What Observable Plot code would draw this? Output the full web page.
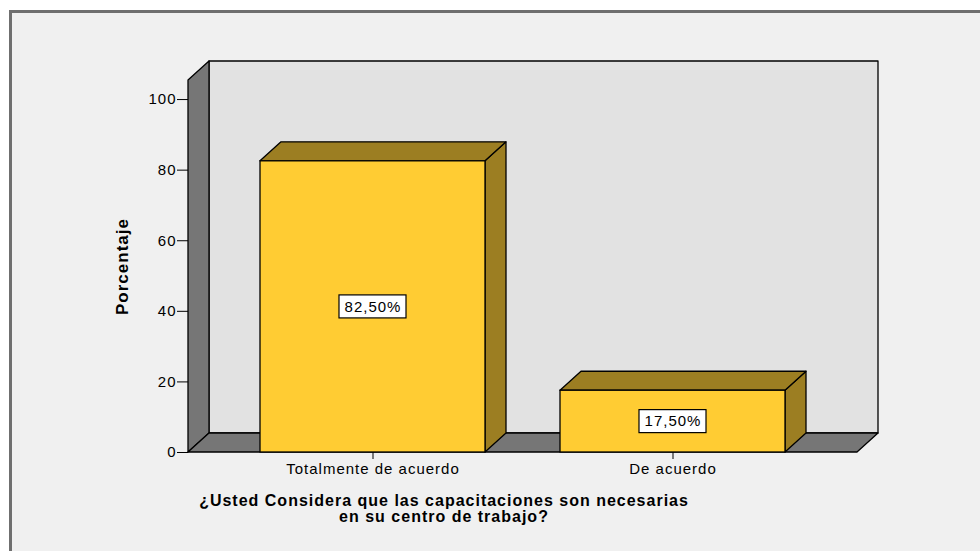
<!DOCTYPE html>
<html><head><meta charset="utf-8">
<script src="https://cdn.jsdelivr.net/npm/d3@7"></script>
<script src="https://cdn.jsdelivr.net/npm/@observablehq/plot@0.6"></script>
<style>
body{margin:0;background:#fff;width:980px;height:551px;overflow:hidden;position:relative;font-family:"Liberation Sans",Arial,sans-serif}
#frame{position:absolute;left:9px;top:10px;width:990px;height:560px;background:#f0f0f0;border-left:3px solid #6f6f6f;border-top:3px solid #6f6f6f;box-sizing:border-box}
#chart{position:absolute;left:0;top:0}
</style></head><body>
<div id="frame"></div><div id="chart"></div>
<script>
const categories = ["Totalmente de acuerdo", "De acuerdo"];
const percentages = [82.5, 17.5];
const valueLabels = ["82,50%", "17,50%"];
const yTicks = [0, 20, 40, 60, 80, 100];
const yDomain = [0, 105.4];
const yLabel = "Porcentaje";
const xTitle = "¿Usted Considera que las capacitaciones son necesarias\nen su centro de trabajo?";

const data = categories.map((c, i) => ({cat: c, pct: percentages[i], label: valueLabels[i]}));

const DX = 21, DY = -19;
const WALL = "#767676", BACK = "#e2e2e2", FRONT = "#ffcc33", SHADE = "#9c7e22";

function bw(sx) { return typeof sx.bandwidth === "function" ? sx.bandwidth() : sx.bandwidth; }
function poly(g, pts, fill) {
  g.append("polygon").attr("points", pts.map(p => p.join(",")).join(" "))
    .attr("fill", fill).attr("stroke", "#000").attr("stroke-width", 1.3).attr("stroke-linejoin", "round");
}

function scene(index, scales, values, dim) {
  const g = d3.create("svg:g");
  const sx = scales.x, sy = scales.y;
  const l = dim.marginLeft, r = dim.width - dim.marginRight;
  const y0 = sy(yDomain[0]), yT = sy(yDomain[1]);
  // back wall
  poly(g, [[l + DX, yT + DY], [r + DX, yT + DY], [r + DX, y0 + DY], [l + DX, y0 + DY]], BACK);
  // left wall
  poly(g, [[l, yT], [l + DX, yT + DY], [l + DX, y0 + DY], [l, y0]], WALL);
  // floor
  poly(g, [[l, y0], [l + DX, y0 + DY], [r + DX, y0 + DY], [r, y0]], WALL);
  // bar side and top faces
  data.forEach(d => {
    const x1 = sx(d.cat), x2 = x1 + bw(sx), yt = sy(d.pct);
    poly(g, [[x2, yt], [x2 + DX, yt + DY], [x2 + DX, y0 + DY], [x2, y0]], SHADE);
    poly(g, [[x1, yt], [x1 + DX, yt + DY], [x2 + DX, yt + DY], [x2, yt]], SHADE);
  });
  return g.node();
}

function labelBoxes(index, scales, values, dim) {
  const g = d3.create("svg:g");
  const sx = scales.x, sy = scales.y;
  data.forEach(d => {
    const cx = sx(d.cat) + bw(sx) / 2, cy = sy(d.pct / 2);
    g.append("rect").attr("x", cx - 33.5).attr("y", cy - 11.5).attr("width", 67).attr("height", 23)
      .attr("fill", "#fff").attr("stroke", "#000").attr("stroke-width", 1.2);
  });
  return g.node();
}

const chart = Plot.plot({
  width: 980,
  height: 551,
  marginLeft: 188,
  marginRight: 123,
  marginTop: 80,
  marginBottom: 99,
  style: {background: "transparent", fontFamily: "'Liberation Sans', Arial, sans-serif", fontSize: "15px", letterSpacing: "1px", color: "#000", overflow: "visible"},
  x: {domain: categories, paddingInner: 0.25, paddingOuter: 0.238, tickSize: 7, tickPadding: 4, label: null},
  y: {domain: yDomain, ticks: yTicks, tickSize: 11, tickPadding: 1, label: null},
  marks: [
    scene,
    Plot.barY(data, {x: "cat", y: "pct", fill: FRONT, stroke: "#000", strokeWidth: 1.3}),
    labelBoxes,
    Plot.text(data, {x: "cat", y: d => d.pct / 2, text: "label", fontSize: 15, fill: "#000"}),
    Plot.text([yLabel], {frameAnchor: "left", textAnchor: "middle", dx: -66, rotate: -90, fontSize: 17, fontWeight: "bold", fill: "#000"}),
    Plot.text([xTitle], {frameAnchor: "bottom", lineAnchor: "top", textAnchor: "middle", dx: -79, dy: 42, fontSize: 16, fontWeight: "bold", lineHeight: 1, fill: "#000"})
  ]
});
document.getElementById("chart").appendChild(chart);
</script>
</body></html>
